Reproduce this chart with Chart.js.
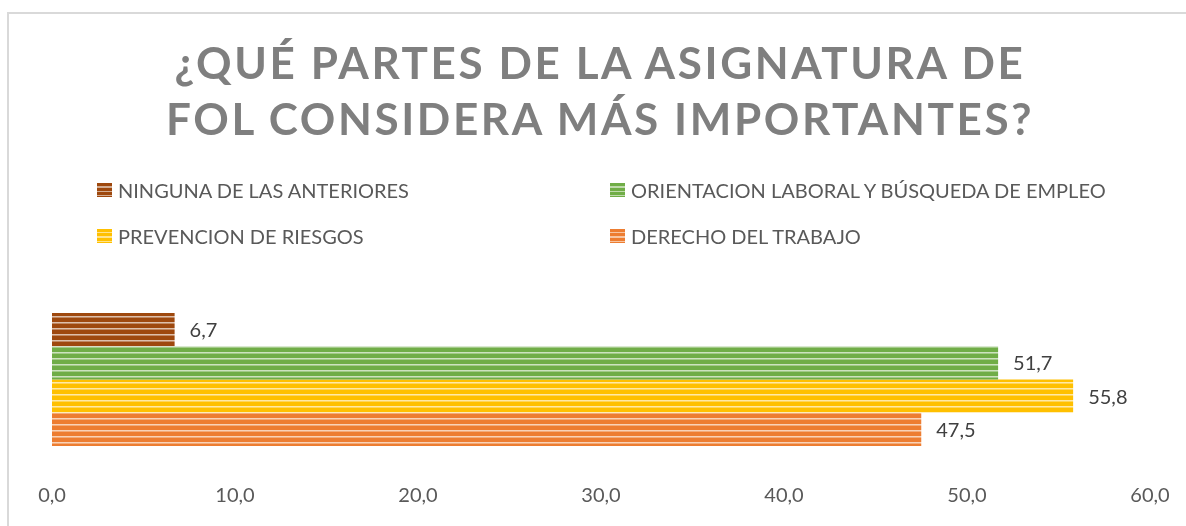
<!DOCTYPE html>
<html lang="es">
<head>
<meta charset="utf-8">
<title>¿Qué partes de la asignatura de FOL considera más importantes?</title>
<script src="https://cdn.jsdelivr.net/npm/chart.js@4.4.1/dist/chart.umd.min.js"></script>
<style>
  html, body { margin: 0; padding: 0; background: #fff; }
  body { width: 1186px; height: 526px; overflow: hidden; position: relative; font-family: Lato, "Open Sans", sans-serif; }
  .frame { position: absolute; left: 7px; top: 12px; width: 1200px; height: 540px; border: 2px solid #d9d9d9; box-sizing: border-box; }
  .title { position: absolute; left: 0; top: 34px; width: 1200px; text-align: center; color: #7f7f7f;
           font-weight: 700; font-size: 44px; line-height: 56px; letter-spacing: 2.6px; margin: 0; }
  .title span { display: block; }
  .legend { position: absolute; left: 97px; top: 178px; display: grid; grid-template-columns: 513px auto; row-gap: 22px; }
  .legend-item { display: flex; align-items: center; font-size: 20px; color: #595959; line-height: 24px; white-space: nowrap; }
  .swatch { width: 15px; height: 14px; margin-right: 6px; flex: none; }
  canvas { position: absolute; left: 0; top: 0; }
</style>
</head>
<body>
<div class="frame"></div>
<canvas id="chart" width="1186" height="526"></canvas>
<h1 class="title"><span>¿QUÉ PARTES DE LA ASIGNATURA DE</span><span>FOL CONSIDERA MÁS IMPORTANTES?</span></h1>
<div class="legend" id="legend"></div>

<script>
"use strict";

// ─── Data ──────────────────────────────────────────────────
const categories   = [""];
const seriesNames  = [
  "NINGUNA DE LAS ANTERIORES",
  "ORIENTACION LABORAL Y BÚSQUEDA DE EMPLEO",
  "PREVENCION DE RIESGOS",
  "DERECHO DEL TRABAJO",
];
const seriesValues = [6.7, 51.7, 55.8, 47.5];
const axisMin  = 0;
const axisMax  = 60;
const axisStep = 10;

// ─── Palette ───────────────────────────────────────────────
const COLORS = ["#9e480e", "#70ad47", "#ffc000", "#ed7d31"];

// mix hex with white
function lighten(hex, amt) {
  const r = parseInt(hex.slice(1,3),16);
  const g = parseInt(hex.slice(3,5),16);
  const b = parseInt(hex.slice(5,7),16);
  const m = v => Math.round(v + (255 - v) * amt);
  return `rgb(${m(r)},${m(g)},${m(b)})`;
}

// horizontal stripe pattern like the Excel fill
function stripes(hex) {
  const c = document.createElement("canvas");
  c.width = 8; c.height = 6;
  const x = c.getContext("2d");
  x.fillStyle = hex;              x.fillRect(0, 0, 8, 6);
  x.fillStyle = lighten(hex, .65); x.fillRect(0, 4, 8, 1);
  x.fillStyle = lighten(hex, .35); x.fillRect(0, 5, 8, 1);
  return x.createPattern(c, "repeat");
}

const fmt = v => Number(v).toFixed(1).replace(".", ",");

// ─── Legend (html, 2 columns) ─────────────────────────────
const legendEl = document.getElementById("legend");
seriesNames.forEach((name, i) => {
  const item = document.createElement("div");
  item.className = "legend-item";
  const sw = document.createElement("span");
  sw.className = "swatch";
  sw.style.background = `repeating-linear-gradient(to bottom, ${COLORS[i]} 0 3px, ${lighten(COLORS[i], .55)} 3px 4.5px)`;
  item.appendChild(sw);
  item.appendChild(document.createTextNode(name));
  legendEl.appendChild(item);
});

// ─── Value labels ─────────────────────────────────────────
const valueLabels = {
  id: "valueLabels",
  afterDatasetsDraw(chart) {
    const ctx = chart.ctx;
    ctx.save();
    ctx.font = "20px Lato, 'Open Sans', sans-serif";
    ctx.fillStyle = "#404040";
    ctx.textAlign = "left";
    ctx.textBaseline = "middle";
    chart.data.datasets.forEach((ds, i) => {
      chart.getDatasetMeta(i).data.forEach((bar, j) => {
        ctx.fillText(fmt(ds.data[j]), bar.x + 15, bar.y + 1);
      });
    });
    ctx.restore();
  },
};

// ─── Chart ────────────────────────────────────────────────
new Chart(document.getElementById("chart"), {
  type: "bar",
  data: {
    labels: categories,
    datasets: seriesNames.map((name, i) => ({
      label: name,
      data: [seriesValues[i]],
      backgroundColor: stripes(COLORS[i]),
      borderWidth: 0,
      barPercentage: 1,
      categoryPercentage: 0.705,
    })),
  },
  options: {
    indexAxis: "y",
    responsive: false,
    animation: false,
    layout: { padding: { left: 52, right: 36, top: 285, bottom: 8 } },
    scales: {
      x: {
        min: axisMin, max: axisMax,
        grid: { display: false, drawTicks: false },
        border: { display: false },
        ticks: {
          stepSize: axisStep,
          padding: 10,
          color: "#595959",
          font: { family: "Lato, 'Open Sans', sans-serif", size: 20 },
          callback: v => fmt(v),
        },
      },
      y: { display: false },
    },
    plugins: { legend: { display: false }, tooltip: { enabled: false } },
  },
  plugins: [valueLabels],
});
</script>
</body>
</html>
